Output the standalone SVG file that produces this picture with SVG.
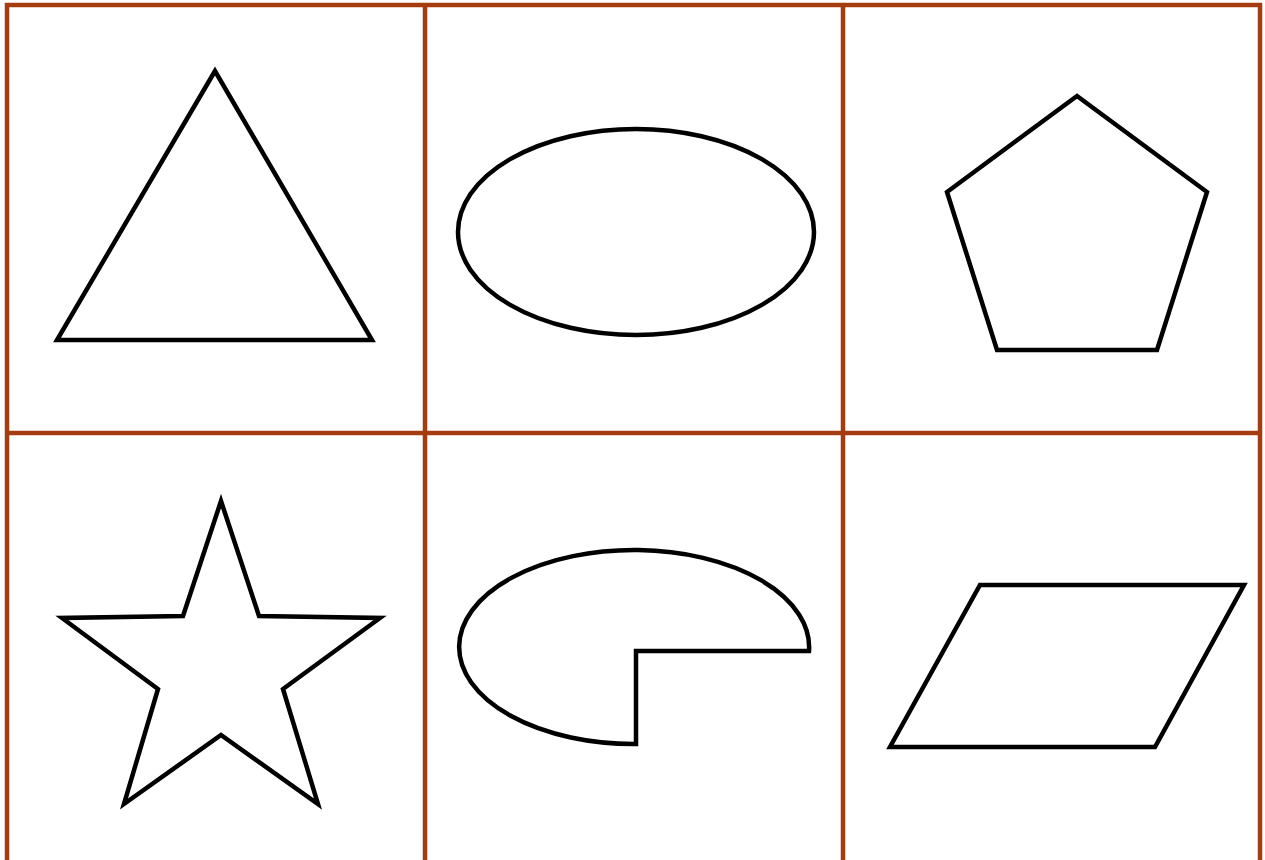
<svg xmlns="http://www.w3.org/2000/svg" width="1265" height="860" viewBox="0 0 1265 860">
<style>
.grid{stroke:#a43c10;stroke-width:4.5;fill:none}
.shape{stroke:#000;stroke-width:4.5;fill:#fff}
</style>
<rect width="1265" height="860" fill="#fff"/>
<g id="grid">
<line class="grid" x1="5" y1="5" x2="1262" y2="5"/>
<line class="grid" x1="5" y1="433" x2="1262" y2="433"/>
<line class="grid" x1="7" y1="3" x2="7" y2="860"/>
<line class="grid" x1="425" y1="3" x2="425" y2="860"/>
<line class="grid" x1="843" y1="3" x2="843" y2="860"/>
<line class="grid" x1="1260" y1="3" x2="1260" y2="860"/>
</g>
<g id="triangle"><polygon class="shape" points="215,71 57,340 372,340"/></g>
<g id="ellipse"><ellipse class="shape" cx="636" cy="232" rx="178" ry="103"/></g>
<g id="pentagon"><polygon class="shape" points="1077,96 1207,192 1157,350 997,350 947,192"/></g>
<g id="star"><polygon class="shape" points="221,501 259,616 380,618 283,689 318,804 221,735 124,804 158,689 62,618 183,616"/></g>
<g id="pie"><path class="shape" d="M636,651 L809,651 A175,97 0 1 0 636,744 Z"/></g>
<g id="parallelogram"><polygon class="shape" points="980,585 1244,585 1155,747 890,747"/></g>
</svg>
